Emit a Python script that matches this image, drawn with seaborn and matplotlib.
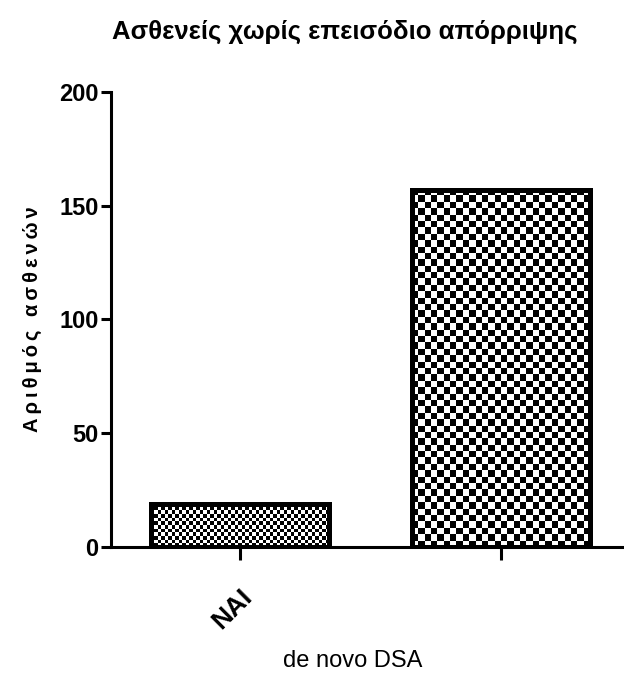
import numpy as np
import pandas as pd
import matplotlib
matplotlib.use("Agg")
import matplotlib.pyplot as plt
import seaborn as sns

# Data
categories = ["NAI", "OXI"]
patients = [19, 157]
tick_labels = ["NAI", ""]
cell_px = [3.5, 6.4]          # checker cell size per bar (pixels)

df = pd.DataFrame({"group": categories, "count": patients})

sns.set_style("white")
plt.rcParams["font.family"] = ["Liberation Sans", "DejaVu Sans"]
plt.rcParams["text.color"] = "black"
plt.rcParams["axes.labelcolor"] = "black"
plt.rcParams["xtick.color"] = "black"
plt.rcParams["ytick.color"] = "black"

fig = plt.figure(figsize=(6.24, 6.75), dpi=100)
ax = fig.add_axes([0.178, 0.19, 0.822, 0.674])

sns.barplot(data=df, x="group", y="count", ax=ax, width=0.68,
            color="white", edgecolor="black", linewidth=3.6, zorder=3)

ax.set_xlim(-0.494, 1.471)
ax.set_ylim(0, 200)
ax.set_autoscale_on(False)
fig.canvas.draw()

# checkerboard fills, clipped to each bar
for patch, cell in zip(ax.patches, cell_px):
    patch.set_facecolor("none")
    x0, y0 = patch.get_x(), patch.get_y()
    w, h = patch.get_width(), patch.get_height()
    p0 = ax.transData.transform((x0, y0))
    p1 = ax.transData.transform((x0 + w, y0 + h))
    nx = max(1, int(round(abs(p1[0] - p0[0]) / cell)))
    ny = max(1, int(round(abs(p1[1] - p0[1]) / cell)))
    ii, jj = np.indices((ny, nx))
    board = ((ii + jj) % 2).astype(float)
    im = ax.imshow(board, cmap="gray", vmin=0, vmax=1, interpolation="nearest",
                   extent=(x0, x0 + w, y0, y0 + h), origin="upper",
                   aspect="auto", zorder=2)
    im.set_clip_path(patch)

ax.set_xlim(-0.494, 1.471)
ax.set_ylim(0, 200)

# axes styling
for side in ["top", "right"]:
    ax.spines[side].set_visible(False)
for side in ["left", "bottom"]:
    ax.spines[side].set_linewidth(2.2)
    ax.spines[side].set_color("black")

ax.set_yticks([0, 50, 100, 150, 200])
ax.tick_params(axis="y", direction="out", length=7, width=2.2, color="black",
               left=True, labelsize=17, pad=2, labelcolor="black")
for lbl in ax.get_yticklabels():
    lbl.set_fontweight("bold")
ax.set_xticks([0, 1])
ax.set_xticklabels(tick_labels, rotation=45, ha="right", rotation_mode="anchor",
                   fontsize=19, fontweight="bold", color="black")
ax.tick_params(axis="x", direction="out", length=9, width=2.2, color="black",
               bottom=True, pad=18)

ylabel = "\u2009".join("Αριθμός ασθενών")
ax.set_ylabel(ylabel, fontsize=14.5, fontweight="bold", labelpad=12)
ax.set_xlabel("")
fig.text(0.565, 0.012, "de novo DSA", ha="center", va="baseline", fontsize=17)
fig.text(0.553, 0.952, "Ασθενείς χωρίς επεισόδιο απόρριψης",
         ha="center", va="center", fontsize=18.5, fontweight="bold")

fig.savefig("out.png", dpi=100)
